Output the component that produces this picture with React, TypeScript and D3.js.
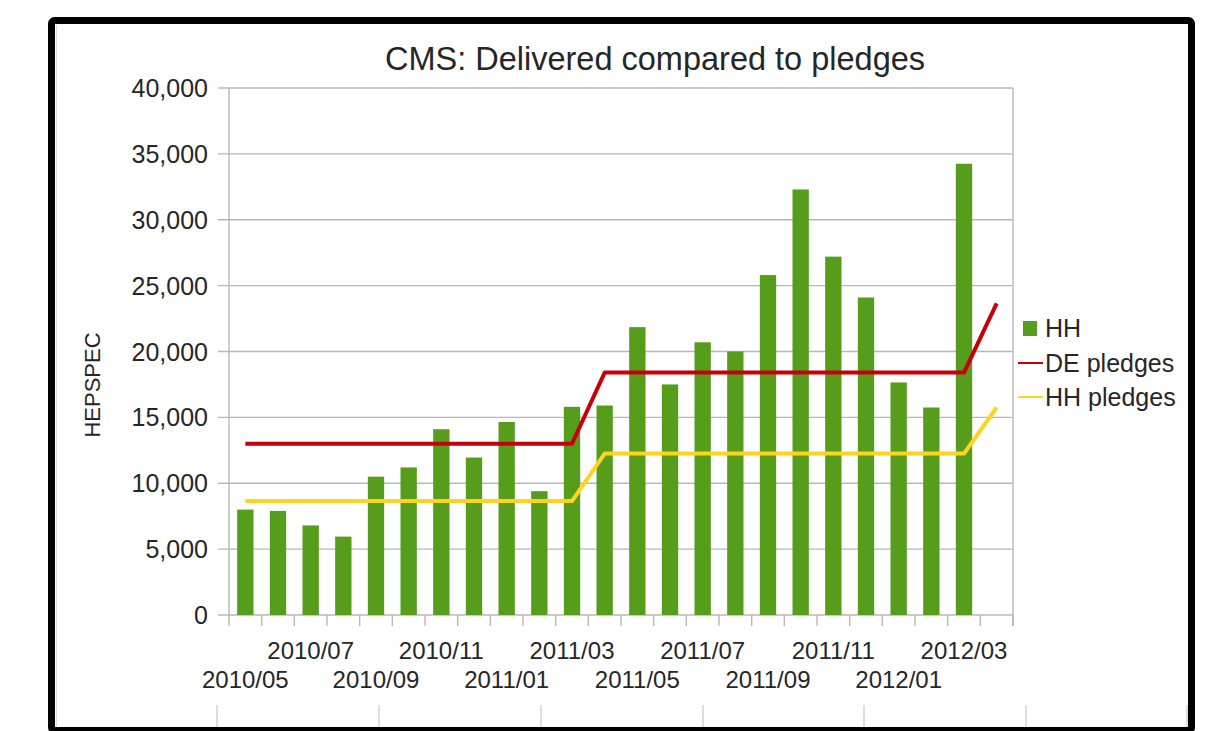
import React from "react";
import * as d3 from "d3";

const months = [
  "2010/05", "2010/06", "2010/07", "2010/08", "2010/09", "2010/10",
  "2010/11", "2010/12", "2011/01", "2011/02", "2011/03", "2011/04",
  "2011/05", "2011/06", "2011/07", "2011/08", "2011/09", "2011/10",
  "2011/11", "2011/12", "2012/01", "2012/02", "2012/03", "2012/04",
];

// HH delivered (last month has no bar)
const hhDelivered = [
  8000, 7900, 6800, 5950, 10500, 11200, 14100, 11950, 14650, 9400, 15800, 15900,
  21850, 17500, 20700, 20000, 25800, 32300, 27200, 24100, 17650, 15750, 34250, null,
];

const dePledges = [
  13000, 13000, 13000, 13000, 13000, 13000, 13000, 13000, 13000, 13000, 13000, 18400,
  18400, 18400, 18400, 18400, 18400, 18400, 18400, 18400, 18400, 18400, 18400, 23650,
];

const hhPledges = [
  8650, 8650, 8650, 8650, 8650, 8650, 8650, 8650, 8650, 8650, 8650, 12250,
  12250, 12250, 12250, 12250, 12250, 12250, 12250, 12250, 12250, 12250, 12250, 15750,
];

const yTicks = [0, 5000, 10000, 15000, 20000, 25000, 30000, 35000, 40000];

const GREEN = "#579d1c";
const RED = "#c5000b";
const YELLOW = "#ffd320";
const GRID = "#b8b8b8";
const TEXT = "#262626";
const FONT = "'Liberation Sans', Arial, sans-serif";

const App = () => {
  const W = 1220;
  const H = 731;
  const plot = { left: 229, right: 1013, top: 88, bottom: 615 };

  const x = d3
    .scaleBand<string>()
    .domain(months)
    .range([plot.left, plot.right])
    .paddingInner(0.5)
    .paddingOuter(0.25);

  const y = d3.scaleLinear().domain([0, 40000]).range([plot.bottom, plot.top]);
  const fmt = d3.format(",");
  const cx = (m: string) => (x(m) as number) + x.bandwidth() / 2;

  const line = d3
    .line<number>()
    .x((_, i) => cx(months[i]))
    .y((d) => y(d));

  const boundaries = d3.range(months.length + 1).map((i) => plot.left + i * x.step());
  const cellLines = [217, 379, 541, 703, 864, 1026, 1187];

  return (
    <svg
      width={W}
      height={H}
      style={{ position: "absolute", left: 0, top: 0, background: "#fff" }}
      fontFamily={FONT}
    >
      {/* spreadsheet cell lines below chart */}
      {cellLines.map((cxl) => (
        <line key={cxl} x1={cxl} x2={cxl} y1={705} y2={731} stroke="#c8c8c8" strokeWidth={1.2} />
      ))}
      <line x1={56.5} x2={56.5} y1={25} y2={731} stroke="#dcdcdc" strokeWidth={1.2} />

      {/* frame */}
      <rect x={51.5} y={20.5} width={1140} height={710} rx={3} fill="none" stroke="#000" strokeWidth={7} />

      {/* title */}
      <text x={655} y={70} textAnchor="middle" fontSize={32.5} fill={TEXT}>
        CMS: Delivered compared to pledges
      </text>

      {/* gridlines and y ticks */}
      {yTicks.map((t) => (
        <g key={t}>
          <line x1={plot.left - 11} x2={plot.right} y1={y(t)} y2={y(t)} stroke={GRID} strokeWidth={1.4} />
          <text x={208} y={y(t)} dy="0.36em" textAnchor="end" fontSize={25} fill={TEXT}>
            {fmt(t)}
          </text>
        </g>
      ))}
      <line x1={plot.left} x2={plot.left} y1={plot.top} y2={plot.bottom} stroke={GRID} strokeWidth={1.4} />
      <line x1={plot.right} x2={plot.right} y1={plot.top} y2={plot.bottom + 11} stroke={GRID} strokeWidth={1.4} />

      {/* x ticks */}
      {boundaries.map((b, i) => (
        <line key={i} x1={b} x2={b} y1={plot.bottom} y2={plot.bottom + 11} stroke={GRID} strokeWidth={1.4} />
      ))}
      {months.map((m, i) =>
        i % 2 === 0 ? (
          <text
            key={m}
            x={cx(m)}
            y={(i / 2) % 2 === 0 ? 688 : 659}
            textAnchor="middle"
            fontSize={24}
            fill={TEXT}
          >
            {m}
          </text>
        ) : null
      )}

      {/* bars */}
      {months.map((m, i) =>
        hhDelivered[i] == null ? null : (
          <rect
            key={m}
            x={x(m)}
            y={y(hhDelivered[i] as number)}
            width={x.bandwidth()}
            height={plot.bottom - y(hhDelivered[i] as number)}
            fill={GREEN}
          />
        )
      )}

      {/* pledge lines */}
      <path d={line(dePledges) || ""} fill="none" stroke={RED} strokeWidth={4} strokeLinejoin="round" />
      <path d={line(hhPledges) || ""} fill="none" stroke={YELLOW} strokeWidth={4} strokeLinejoin="round" />

      {/* y axis title */}
      <text
        transform="translate(100,385) rotate(-90)"
        textAnchor="middle"
        fontSize={22}
        fill={TEXT}
      >
        HEPSPEC
      </text>

      {/* legend */}
      <rect x={1023} y={321} width={14} height={15} fill={GREEN} />
      <text x={1045} y={337} fontSize={25} fill={TEXT}>HH</text>
      <line x1={1018} x2={1043} y1={363} y2={363} stroke={RED} strokeWidth={2} />
      <text x={1045} y={372} fontSize={25} fill={TEXT}>DE pledges</text>
      <line x1={1018} x2={1043} y1={397} y2={397} stroke={YELLOW} strokeWidth={2} />
      <text x={1045} y={406} fontSize={25} fill={TEXT}>HH pledges</text>
    </svg>
  );
};

export default App;
